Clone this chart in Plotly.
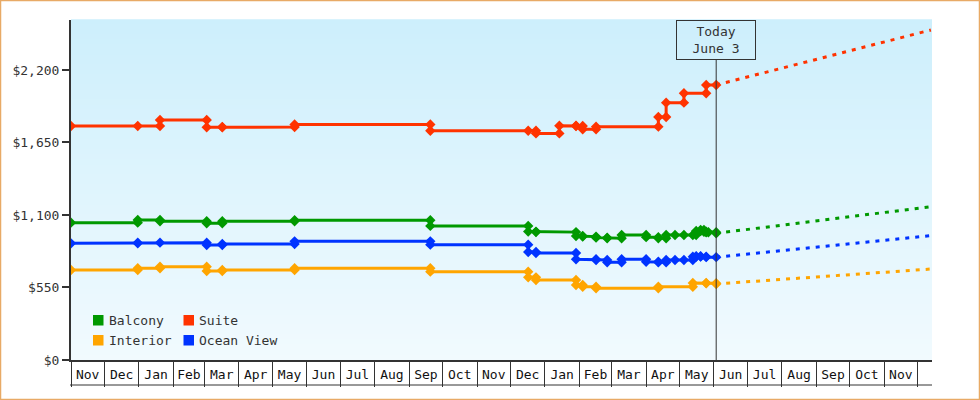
import plotly.graph_objects as go

# ---------------- data ----------------
suite_dates = ["2022-11-01", "2022-12-31", "2023-01-20", "2023-03-03", "2023-03-17", "2023-05-21",
               "2023-09-20", "2023-12-17", "2023-12-24", "2024-01-14", "2024-01-29", "2024-02-04",
               "2024-02-16", "2024-04-12", "2024-04-19", "2024-05-05", "2024-05-25", "2024-06-03"]
suite_prices = [1775, 1775, 1821, 1765, 1767, 1786, 1739, 1739, 1719, 1777, 1775, 1750,
                1770, 1843, 1952, 2023, 2086, 2086]

balcony_dates = ["2022-11-01", "2022-12-31", "2023-01-20", "2023-03-03", "2023-03-17", "2023-05-21",
                 "2023-09-20", "2023-12-17", "2023-12-24", "2024-01-29", "2024-02-04", "2024-02-16",
                 "2024-02-26", "2024-03-10", "2024-04-01", "2024-04-12", "2024-04-19", "2024-04-27",
                 "2024-05-05", "2024-05-13", "2024-05-16", "2024-05-20", "2024-05-23", "2024-05-25",
                 "2024-05-27", "2024-06-03"]
balcony_prices = [1042, 1062, 1052, 1037, 1052, 1060, 1017, 974, 970, 941, 936, 928,
                  923, 948, 932, 923, 948, 948, 948, 948, 979, 986, 973, 969, 969, 961]

ocean_dates = ["2022-11-01", "2022-12-31", "2023-01-20", "2023-03-03", "2023-03-17", "2023-05-21",
               "2023-09-20", "2023-12-17", "2023-12-24", "2024-01-29", "2024-02-16", "2024-02-26",
               "2024-03-10", "2024-04-01", "2024-04-12", "2024-04-19", "2024-04-27", "2024-05-05",
               "2024-05-13", "2024-05-16", "2024-05-20", "2024-05-25", "2024-06-03"]
ocean_prices = [885, 890, 890, 872, 880, 900, 875, 819, 812, 764, 759, 741,
                764, 745, 741, 759, 759, 759, 784, 787, 784, 780, 780]

interior_dates = ["2022-11-01", "2022-12-31", "2023-01-20", "2023-03-03", "2023-03-17", "2023-05-21",
                  "2023-09-20", "2023-12-17", "2023-12-24", "2024-01-29", "2024-02-04", "2024-02-16",
                  "2024-04-12", "2024-05-13", "2024-05-25", "2024-06-03"]
interior_prices = [683, 696, 708, 675, 683, 696, 670, 627, 607, 569, 556, 544,
                   556, 584, 582, 577]

forecast_dates = ["2024-06-03", "2024-12-13"]
suite_forecast = [2086, 2503]
balcony_forecast = [961, 1163]
ocean_forecast = [780, 943]
interior_forecast = [577, 690]

today_date = "2024-06-03"
today_label = "Today<br>June 3"

y_tick_values = [0, 550, 1100, 1650, 2200]

series_names = ["Balcony", "Suite", "Interior", "Ocean View"]
series_colors = ["#009900", "#ff3300", "#ffa500", "#0033ff"]

# ---------------- layout helpers ----------------
W, H = 980, 400
L, R, T, B = 71, 48, 20, 40
PW, PH = W - L - R, H - T - B
FONT = "DejaVu Sans Mono"
INK = "#333333"


def px(x):
    return (x - L) / PW


def py(y):
    return (H - B - y) / PH


def step(dates, prices):
    xs, ys = [dates[0]], [prices[0]]
    for i in range(1, len(dates)):
        if prices[i] != prices[i - 1]:
            xs += [dates[i], dates[i]]
            ys += [prices[i - 1], prices[i]]
        else:
            xs.append(dates[i])
            ys.append(prices[i])
    return xs, ys


fig = go.Figure()

hist = {
    "Balcony": (balcony_dates, balcony_prices, balcony_forecast),
    "Suite": (suite_dates, suite_prices, suite_forecast),
    "Interior": (interior_dates, interior_prices, interior_forecast),
    "Ocean View": (ocean_dates, ocean_prices, ocean_forecast),
}

for name, color in zip(series_names, series_colors):
    d, p, f = hist[name]
    xs, ys = step(d, p)
    fig.add_trace(go.Scatter(
        x=forecast_dates, y=f, mode="lines", showlegend=False,
        line=dict(color=color, width=3, dash="4px,6px"), hoverinfo="skip"))
    fig.add_trace(go.Scatter(
        x=xs, y=ys, mode="lines+markers", name=name, showlegend=False,
        line=dict(color=color, width=3),
        marker=dict(symbol="diamond", size=8, color=color)))

shapes = []
# gradient background
top = (205, 239, 252)
bot = (241, 250, 254)
N = 68
for i in range(N):
    t = i / (N - 1)
    c = tuple(round(top[k] + (bot[k] - top[k]) * t) for k in range(3))
    shapes.append(dict(type="rect", xref="paper", yref="paper",
                       x0=0, x1=1, y0=1 - (i + 1) / N, y1=1 - i / N + 0.002,
                       line=dict(width=0), fillcolor="rgb(%d,%d,%d)" % c, layer="below"))

# today line
shapes.append(dict(type="line", xref="x", yref="paper", x0=today_date, x1=today_date,
                   y0=0, y1=py(60), line=dict(color=INK, width=1)))
# bottom line of month boxes
shapes.append(dict(type="line", xref="paper", yref="paper", x0=px(70), x1=1,
                   y0=py(385), y1=py(385), line=dict(color=INK, width=1)))
# outer border
shapes.append(dict(type="rect", xref="paper", yref="paper",
                   x0=px(0.5), x1=px(979.5), y0=py(399.5), y1=py(0.5),
                   line=dict(color="#e8aa66", width=1.5)))

# legend (manual)
annotations = []
legend_pos = {"Balcony": (93, 315), "Suite": (183.5, 315),
              "Interior": (93, 335), "Ocean View": (183.5, 335)}
for name, color in zip(series_names, series_colors):
    x0, y0 = legend_pos[name]
    shapes.append(dict(type="rect", xref="paper", yref="paper",
                       x0=px(x0), x1=px(x0 + 10.5), y0=py(y0 + 10.5), y1=py(y0),
                       line=dict(width=0), fillcolor=color))
    annotations.append(dict(xref="paper", yref="paper", x=px(x0 + 13.5), y=py(y0 + 5.5),
                            xanchor="left", yanchor="middle", showarrow=False,
                            text=name, font=dict(family=FONT, size=13, color=INK)))

annotations.append(dict(xref="x", yref="paper", x=today_date, y=1, xanchor="center",
                        yanchor="top", showarrow=False, text=today_label,
                        font=dict(family=FONT, size=13, color=INK),
                        width=78, height=38, borderwidth=1, bordercolor=INK, borderpad=0,
                        align="center", valign="middle"))

fig.update_layout(
    width=W, height=H,
    margin=dict(l=L, r=R, t=T, b=B, pad=0),
    paper_bgcolor="white", plot_bgcolor="rgba(0,0,0,0)",
    font=dict(family=FONT, size=13, color=INK),
    showlegend=False,
    shapes=shapes, annotations=annotations,
    xaxis=dict(
        type="date", range=["2022-11-01", "2024-12-14"],
        tick0="2022-11-01", dtick="M1", tickformat="%b", ticklabelmode="period",
        ticks="outside", ticklen=25, tickwidth=1, tickcolor=INK,
        ticklabelstandoff=-24,
        showline=True, linewidth=2, linecolor=INK,
        showgrid=False, zeroline=False,
        tickfont=dict(family=FONT, size=13, color="#111111"),
    ),
    yaxis=dict(
        range=[0, 2579], tickvals=y_tick_values,
        tickformat="$,",
        ticks="outside", ticklen=7, tickwidth=2, tickcolor=INK,
        showline=True, linewidth=2, linecolor=INK,
        showgrid=False, zeroline=False,
        tickfont=dict(family=FONT, size=13, color=INK),
    ),
)

fig.write_html("out.html")
